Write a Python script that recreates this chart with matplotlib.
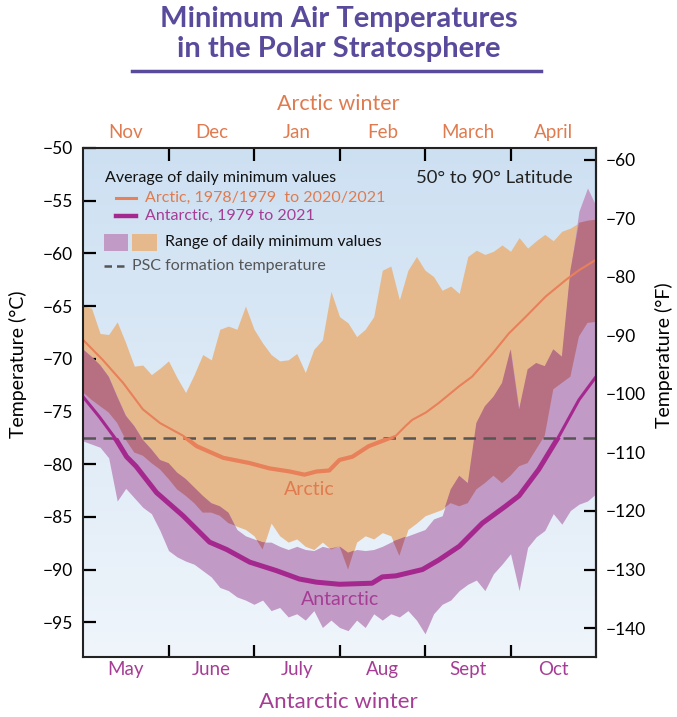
import numpy as np
import matplotlib
matplotlib.use('Agg')
import matplotlib.pyplot as plt
from matplotlib.colors import LinearSegmentedColormap
from matplotlib.patches import Rectangle
from matplotlib.lines import Line2D

plt.rcParams['font.family'] = ['Lato', 'DejaVu Sans']

# months into the winter season (0 = start of Nov for Arctic / May for Antarctic)
month = np.round(np.arange(0, 6.01, 0.1), 1)

# range of daily minimum values (deg C), one value per 0.1 month
arctic_hi = [-65.0, -65.2, -67.6, -67.7, -66.5, -68.5, -70.7, -70.6, -71.5, -70.9,
             -70.2, -71.8, -73.2, -71.5, -69.6, -70.1, -67.2, -66.9, -67.2, -65.0,
             -67.2, -68.5, -69.6, -70.2, -70.1, -69.5, -71.3, -69.1, -68.2, -63.6,
             -66.0, -66.6, -67.9, -67.2, -66.0, -61.6, -61.2, -64.4, -61.6, -60.3,
             -61.6, -62.2, -63.5, -63.1, -63.8, -60.3, -59.7, -60.1, -59.8, -59.2,
             -59.8, -58.5, -59.5, -58.8, -58.2, -58.8, -57.9, -57.6, -57.1, -56.9, -56.8]
arctic_lo = [-73.2, -73.9, -74.5, -75.1, -76.1, -77.7, -78.9, -79.2, -79.9, -80.5,
             -81.4, -82.4, -83.0, -83.7, -84.6, -84.6, -84.9, -85.6, -85.9, -86.2,
             -86.8, -88.1, -85.6, -86.8, -87.4, -87.1, -87.8, -88.1, -87.4, -88.1,
             -87.8, -90.0, -87.4, -86.8, -87.1, -86.5, -86.8, -88.7, -86.2, -85.6,
             -84.9, -84.6, -84.3, -83.7, -84.0, -83.7, -82.4, -81.8, -81.1, -81.8,
             -81.1, -80.2, -79.9, -78.6, -77.3, -72.9, -72.3, -71.7, -67.9, -66.6, -66.5]
antarctic_hi = [-69.1, -69.8, -70.6, -71.7, -73.6, -75.4, -76.4, -77.7, -78.6, -79.6,
                -79.9, -80.8, -81.4, -82.2, -83.0, -83.7, -84.0, -84.6, -86.2, -86.8,
                -87.1, -87.4, -87.4, -87.8, -88.1, -87.8, -88.1, -88.2, -87.8, -88.0,
                -87.8, -88.4, -88.1, -88.2, -88.1, -87.8, -87.4, -87.1, -86.8, -86.5,
                -86.2, -85.2, -84.9, -82.4, -81.1, -81.8, -76.1, -74.5, -73.6, -72.3,
                -69.1, -74.8, -71.0, -70.4, -70.7, -69.1, -69.8, -61.6, -56.0, -53.8, -55.5]
antarctic_lo = [-77.8, -78.1, -78.4, -79.4, -83.5, -82.3, -83.2, -84.1, -84.7, -86.3,
                -88.2, -88.8, -89.2, -89.5, -90.1, -90.7, -91.7, -92.0, -92.6, -92.9,
                -93.3, -92.9, -93.9, -93.6, -94.5, -94.2, -94.8, -93.9, -95.5, -94.8,
                -95.5, -95.8, -94.8, -95.5, -94.2, -94.8, -94.2, -94.5, -93.9, -94.8,
                -96.1, -94.2, -93.3, -92.9, -92.0, -91.4, -91.0, -92.0, -90.4, -89.5,
                -88.5, -92.0, -87.9, -86.9, -86.3, -84.7, -85.7, -84.4, -83.8, -83.5, -82.8]

# average of daily minimum values
arctic_mean_x = [0.0, 0.23, 0.47, 0.70, 0.90, 1.17, 1.33, 1.64, 1.95, 2.18, 2.42, 2.59,
                 2.73, 2.88, 3.0, 3.15, 3.34, 3.50, 3.66, 3.77, 3.85, 4.01, 4.16, 4.40,
                 4.55, 4.79, 4.98, 5.18, 5.41, 5.65, 5.80, 6.0]
arctic_mean = [-68.2, -70.1, -72.3, -74.8, -76.1, -77.3, -78.3, -79.4, -79.9, -80.4, -80.7, -81.0,
               -80.7, -80.6, -79.6, -79.3, -78.3, -77.8, -77.3, -76.4, -75.8, -75.1, -74.2, -72.6,
               -71.7, -69.5, -67.6, -66.0, -64.1, -62.5, -61.6, -60.6]
antarctic_mean_x = [0.0, 0.19, 0.39, 0.51, 0.62, 0.86, 1.17, 1.48, 1.68, 1.95, 2.26, 2.53,
                    2.73, 3.0, 3.38, 3.50, 3.66, 3.97, 4.16, 4.40, 4.67, 4.94, 5.10, 5.33,
                    5.57, 5.80, 6.0]
antarctic_mean = [-73.6, -75.5, -77.7, -79.3, -80.2, -82.7, -84.9, -87.4, -88.1, -89.3, -90.1, -90.9,
                  -91.2, -91.4, -91.3, -90.7, -90.6, -90.0, -89.1, -87.8, -85.6, -84.0, -83.0, -80.5,
                  -77.3, -73.9, -71.7]

arctic_months = ['Nov', 'Dec', 'Jan', 'Feb', 'March', 'April']
antarctic_months = ['May', 'June', 'July', 'Aug', 'Sept', 'Oct']
psc_temp = -77.5

orange_line = '#e8805a'
purple_line = '#a5288f'
orange_fill = '#e6b98c'
purple_fill = '#c29ac6'
overlap_fill = '#b77082'
title_col = '#5a4a9c'
orange_txt = '#e07b4f'
purple_txt = '#a63d95'

fig = plt.figure(figsize=(6.77, 7.17), dpi=100)
ax = fig.add_axes([0.1226, 0.0837, 0.7578, 0.7099])
ax.set_xlim(0, 6)
ax.set_ylim(-98.3, -50)

# light blue gradient background
cmap = LinearSegmentedColormap.from_list('bg', ['#eff5fb', '#cde0f2'])
ax.imshow(np.linspace(0, 1, 256).reshape(-1, 1), cmap=cmap, origin='lower',
          extent=[0, 6, -98.3, -50], aspect='auto', zorder=0)

a_hi = np.array(arctic_hi)
a_lo = np.array(arctic_lo)
p_hi = np.array(antarctic_hi)
p_lo = np.array(antarctic_lo)
ax.fill_between(month, a_lo, a_hi, color=orange_fill, lw=0, zorder=1)
ax.fill_between(month, p_lo, p_hi, color=purple_fill, lw=0, zorder=2)
lo = np.maximum(a_lo, p_lo)
hi = np.minimum(a_hi, p_hi)
ax.fill_between(month, lo, hi, where=hi > lo, interpolate=True,
                color=overlap_fill, lw=0, zorder=3)

ax.axhline(psc_temp, color='#555555', lw=1.8, dashes=(5, 3), zorder=4)

# mean lines: thicker where colder than the PSC threshold
ax.plot(arctic_mean_x, arctic_mean, color=orange_line, lw=1.5, zorder=5)
l, = ax.plot(arctic_mean_x, arctic_mean, color=orange_line, lw=3.0, zorder=5)
l.set_clip_path(Rectangle((0, -100), 6, psc_temp + 100, transform=ax.transData))
ax.plot(antarctic_mean_x, antarctic_mean, color=purple_line, lw=2.2, zorder=6)
l, = ax.plot(antarctic_mean_x, antarctic_mean, color=purple_line, lw=3.6, zorder=6)
l.set_clip_path(Rectangle((0, -100), 6, psc_temp + 100, transform=ax.transData))

# axes styling
for s in ax.spines.values():
    s.set_linewidth(1.5)
    s.set_color('#222222')
    s.set_zorder(10)
ax.set_xticks(range(1, 6))
ax.tick_params(axis='x', direction='in', length=9, width=1.6, top=True, bottom=True,
               labelbottom=False, labeltop=False)
ax.set_yticks(np.arange(-95, -49, 5))
ax.tick_params(axis='y', direction='in', length=9, width=1.6, labelsize=12.5, pad=7)
ax.set_ylabel('Temperature (°C)', fontsize=14)
ax.yaxis.set_label_coords(-0.109, 0.576)

sec = ax.secondary_yaxis('right', functions=(lambda c: c * 9 / 5 + 32, lambda f: (f - 32) * 5 / 9))
sec.set_yticks(np.arange(-140, -59, 10))
sec.tick_params(direction='in', length=9, width=1.6, labelsize=12.5, pad=7)
sec.spines['right'].set_linewidth(1.5)
sec.set_ylabel('Temperature (°F)', fontsize=14)
sec.yaxis.set_label_coords(1.115, 0.593, transform=ax.transAxes)

tr = ax.get_xaxis_transform()
for i, name in enumerate(arctic_months):
    ax.text(i + 0.5, 1.0295, name, transform=tr, ha='center', va='center',
            fontsize=13.5, color=orange_txt)
for i, name in enumerate(antarctic_months):
    ax.text(i + 0.5, -0.0255, name, transform=tr, ha='center', va='center',
            fontsize=13.5, color=purple_txt)

# legend block drawn by hand
ax.text(0.043, 0.941, 'Average of daily minimum values', transform=ax.transAxes,
        fontsize=11.5, va='center', color='#111111', zorder=11)
ax.add_line(Line2D([0.064, 0.103], [0.902, 0.902], transform=ax.transAxes,
                   color=orange_line, lw=2.2, zorder=11))
ax.text(0.121, 0.902, 'Arctic, 1978/1979  to 2020/2021', transform=ax.transAxes,
        fontsize=11.5, va='center', color=orange_txt, zorder=11)
ax.add_line(Line2D([0.064, 0.103], [0.866, 0.866], transform=ax.transAxes,
                   color=purple_line, lw=3.2, zorder=11))
ax.text(0.121, 0.866, 'Antarctic, 1979 to 2021', transform=ax.transAxes,
        fontsize=11.5, va='center', color=purple_txt, zorder=11)
ax.add_patch(Rectangle((0.041, 0.798), 0.047, 0.033, transform=ax.transAxes,
                       color=purple_fill, lw=0, zorder=11))
ax.add_patch(Rectangle((0.0955, 0.798), 0.049, 0.033, transform=ax.transAxes,
                       color=orange_fill, lw=0, zorder=11))
ax.text(0.16, 0.815, 'Range of daily minimum values', transform=ax.transAxes,
        fontsize=11.5, va='center', color='#111111', zorder=11)
ax.add_line(Line2D([0.041, 0.086], [0.768, 0.768], transform=ax.transAxes,
                   color='#555555', lw=1.8, dashes=(3, 2), zorder=11))
ax.text(0.0955, 0.768, 'PSC formation temperature', transform=ax.transAxes,
        fontsize=11.5, va='center', color='#555555', zorder=11)

ax.text(0.955, 0.941, '50° to 90° Latitude', transform=ax.transAxes,
        fontsize=13.3, ha='right', va='center', color='#222222', zorder=11)
ax.text(0.4405, 0.330, 'Arctic', transform=ax.transAxes, fontsize=14,
        ha='center', va='center', color=orange_txt, zorder=11)
ax.text(0.501, 0.112, 'Antarctic', transform=ax.transAxes, fontsize=14,
        ha='center', va='center', color=purple_txt, zorder=11)

# title and outer labels
fig.text(0.5, 0.973, 'Minimum Air Temperatures', ha='center', va='center',
         fontsize=21, fontweight='bold', color=title_col)
fig.text(0.5, 0.932, 'in the Polar Stratosphere', ha='center', va='center',
         fontsize=21, fontweight='bold', color=title_col)
fig.add_artist(Line2D([0.195, 0.799], [0.901, 0.901], color=title_col, lw=2.5))
fig.text(0.5, 0.855, 'Arctic winter', ha='center', va='center', fontsize=15.5, color=orange_txt)
fig.text(0.5, 0.021, 'Antarctic winter', ha='center', va='center', fontsize=16, color=purple_txt)

fig.savefig('out.png', dpi=100)
